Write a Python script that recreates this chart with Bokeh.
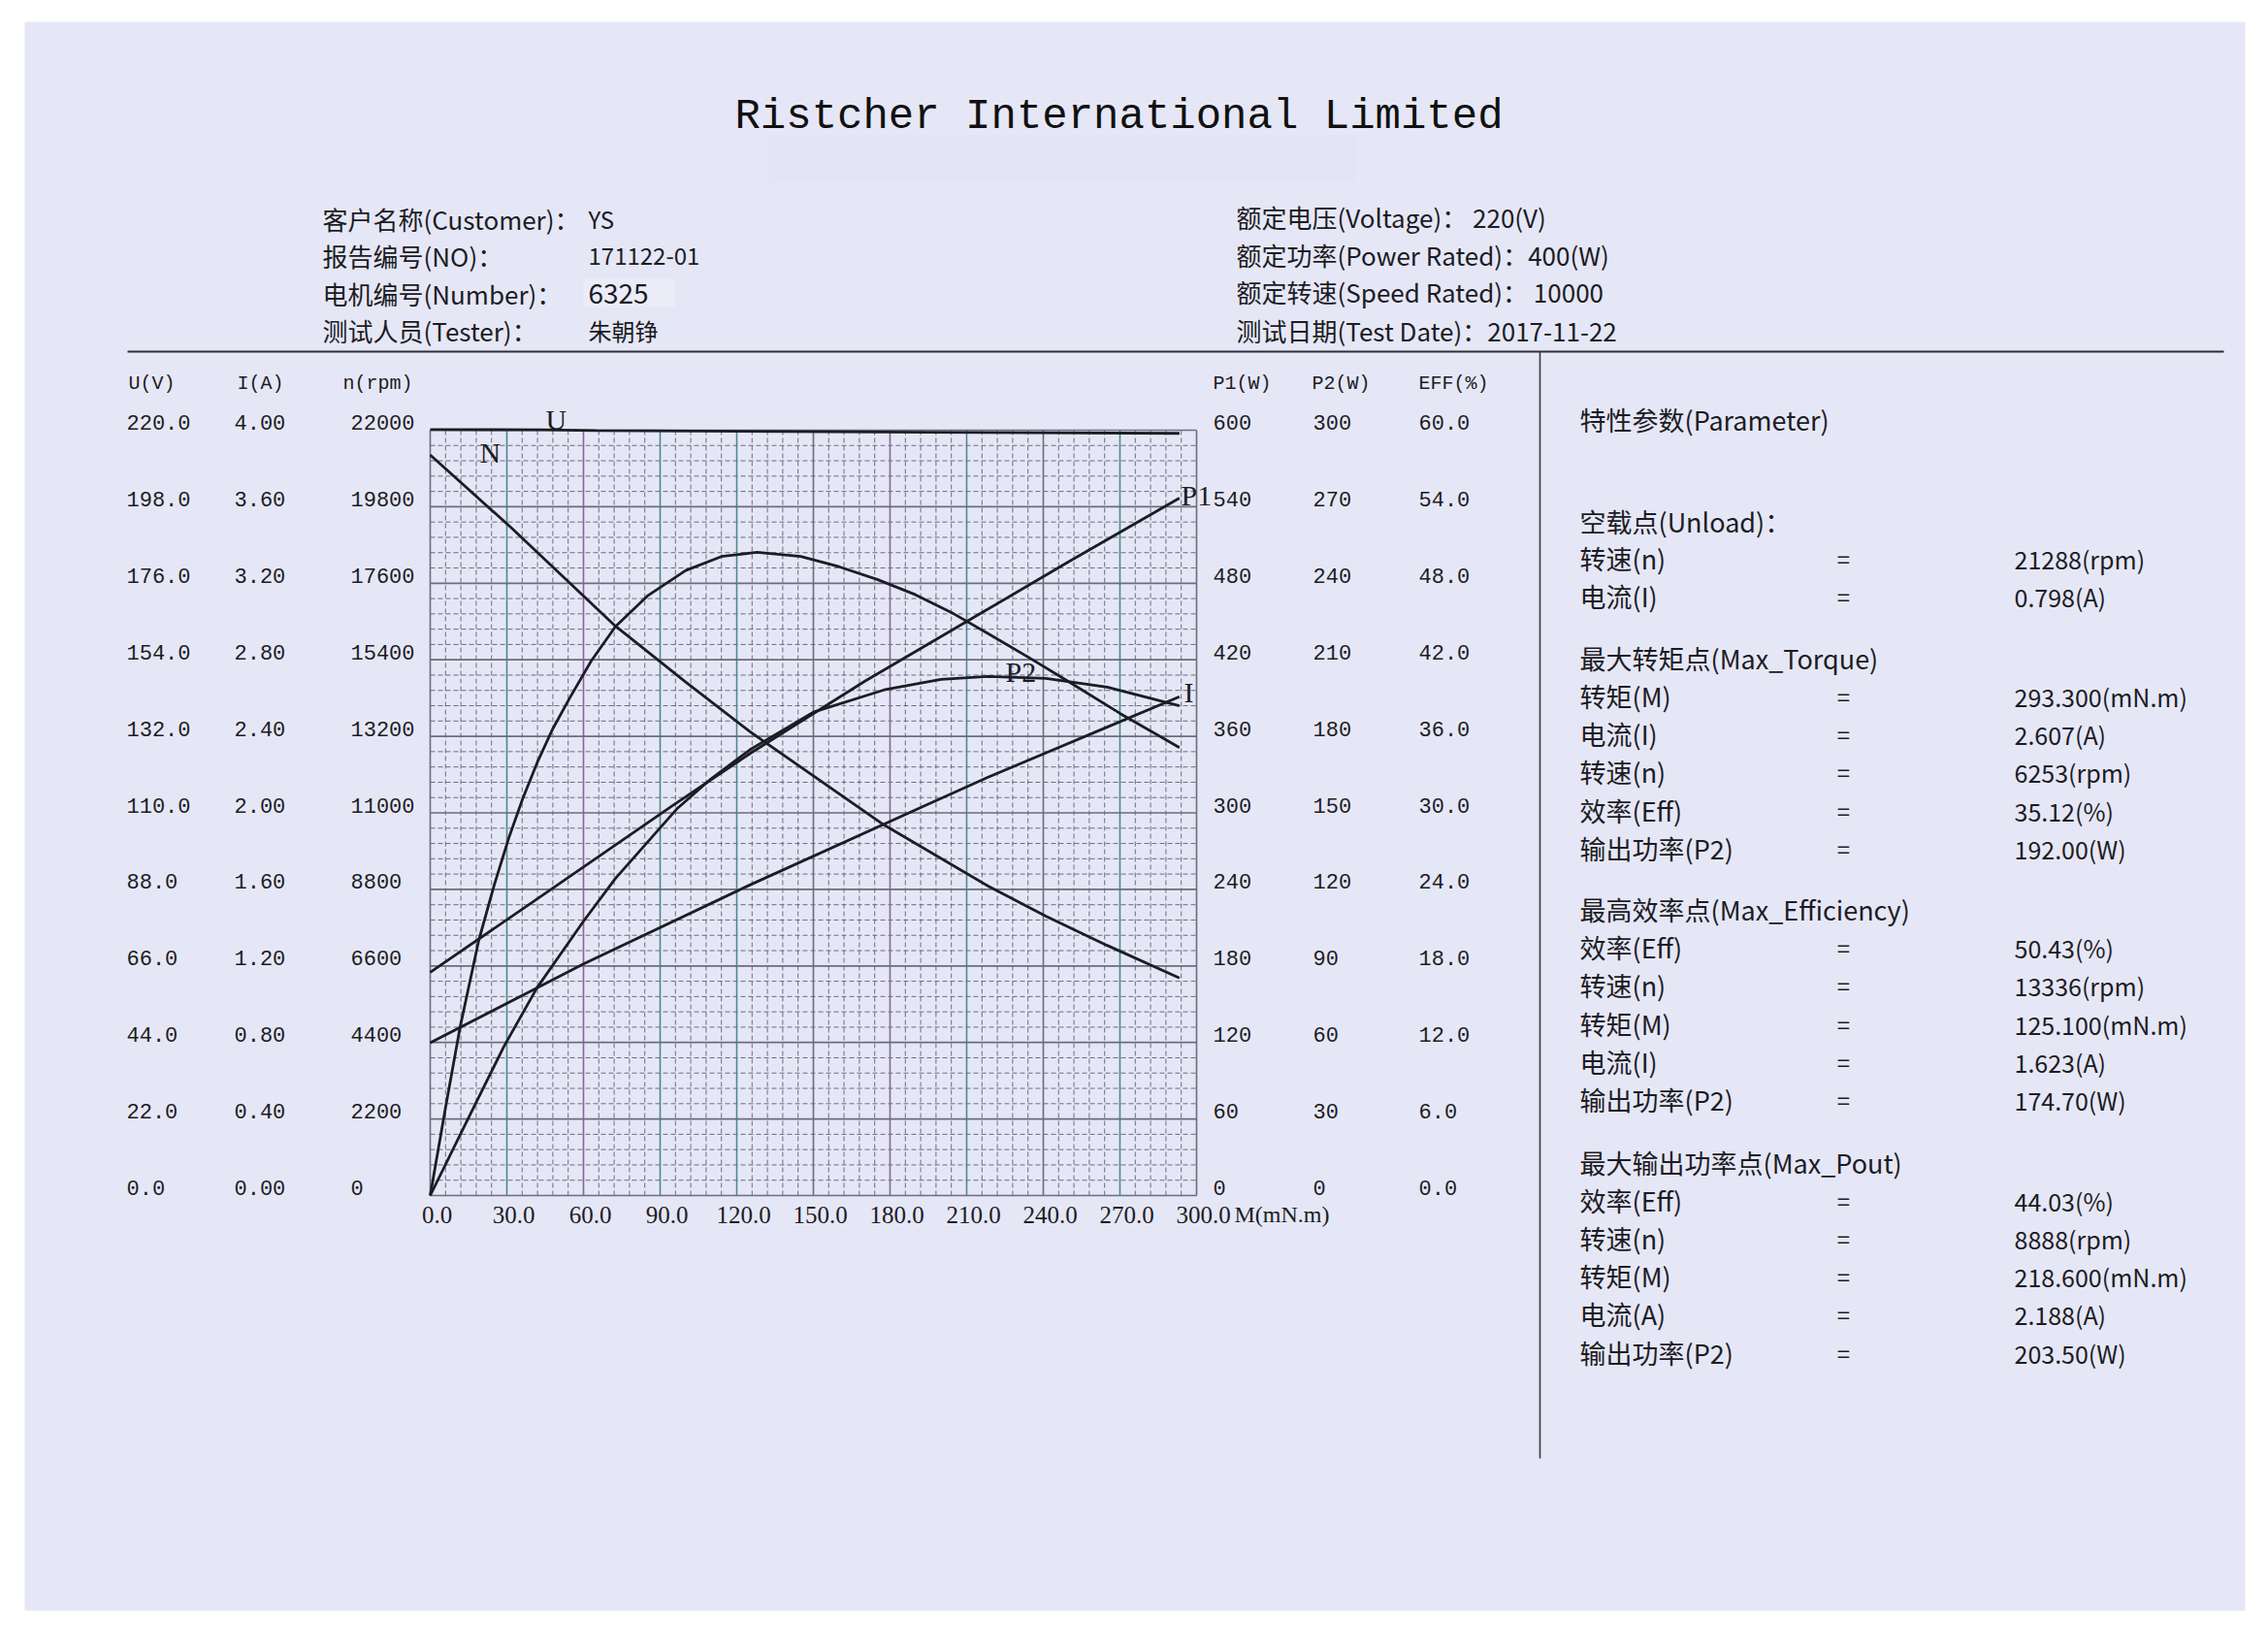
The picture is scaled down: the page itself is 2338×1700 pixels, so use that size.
from bokeh.plotting import figure
from bokeh.models import Range1d
from bokeh.core.properties import value
from bokeh.embed import file_html
from bokeh.resources import INLINE

# ---------------- data ----------------
torque_ticks = [0, 30, 60, 90, 120, 150, 180, 210, 240, 270, 300]
u_ticks = [0.0, 22.0, 44.0, 66.0, 88.0, 110.0, 132.0, 154.0, 176.0, 198.0, 220.0]
i_ticks = [0.00, 0.40, 0.80, 1.20, 1.60, 2.00, 2.40, 2.80, 3.20, 3.60, 4.00]
n_ticks = [0, 2200, 4400, 6600, 8800, 11000, 13200, 15400, 17600, 19800, 22000]
p1_ticks = [0, 60, 120, 180, 240, 300, 360, 420, 480, 540, 600]
p2_ticks = [0, 30, 60, 90, 120, 150, 180, 210, 240, 270, 300]
eff_ticks = [0.0, 6.0, 12.0, 18.0, 24.0, 30.0, 36.0, 42.0, 48.0, 54.0, 60.0]

# curves (torque M in mN.m)
torque_u = [0, 45, 65, 140, 194, 293.3]
voltage_u = [220.2, 220.1, 219.9, 219.6, 219.4, 219.1]

torque_n = [0, 31.5, 72.5, 100, 125.1, 177.7, 218.6, 241, 265, 293.3]
speed_n = [21288, 19210, 16370, 14760, 13336, 10650, 8888, 8030, 7190, 6253]

torque_i = [0, 60, 125.1, 193.7, 218.6, 260, 293.3]
current_i = [0.798, 1.21, 1.623, 2.038, 2.188, 2.42, 2.607]

torque_p1 = [0, 40, 94.4, 125.1, 170, 210, 250, 293.3]
power_p1 = [175.0, 230, 305, 346.4, 403, 450, 497, 546.7]

torque_p2 = [0, 15, 28.9, 41.8, 60, 72.5, 96.5, 110, 125.1, 150, 177.7, 200, 218.6, 241, 265, 293.3]
power_p2 = [0, 30.5, 58.5, 81.4, 107.5, 124.3, 151.5, 163.4, 174.7, 189.5, 198.2, 202.3, 203.5, 202.7, 199.3, 192.0]

torque_eff = [0, 6, 11.8, 19, 25, 30.7, 36, 42, 48, 54.6, 63, 72.5, 85, 100, 114, 128,
              145, 160, 175, 190, 205, 218.6, 235, 249, 270, 293.3]
eff = [0, 6.9, 13.3, 20.0, 24.3, 28.0, 31.0, 34.0, 36.6, 39.0, 41.9, 44.6, 47.0, 49.0, 50.1, 50.43,
       50.1, 49.3, 48.3, 47.1, 45.6, 44.03, 42.1, 40.4, 37.8, 35.12]

header_left = ["客户名称(Customer)：", "报告编号(NO)：", "电机编号(Number)：", "测试人员(Tester)："]
header_left_values = ["YS", "171122-01", "6325", "朱朝铮"]
header_right = ["额定电压(Voltage)： 220(V)", "额定功率(Power Rated)：400(W)",
                "额定转速(Speed Rated)： 10000", "测试日期(Test Date)：2017-11-22"]

param_names = ["空载点(Unload)：", "转速(n)", "电流(I)",
               "最大转矩点(Max_Torque)", "转矩(M)", "电流(I)", "转速(n)", "效率(Eff)", "输出功率(P2)",
               "最高效率点(Max_Efficiency)", "效率(Eff)", "转速(n)", "转矩(M)", "电流(I)", "输出功率(P2)",
               "最大输出功率点(Max_Pout)", "效率(Eff)", "转速(n)", "转矩(M)", "电流(A)", "输出功率(P2)"]
param_values = ["", "21288(rpm)", "0.798(A)",
                "", "293.300(mN.m)", "2.607(A)", "6253(rpm)", "35.12(%)", "192.00(W)",
                "", "50.43(%)", "13336(rpm)", "125.100(mN.m)", "1.623(A)", "174.70(W)",
                "", "44.03(%)", "8888(rpm)", "218.600(mN.m)", "2.188(A)", "203.50(W)"]

# ---------------- layout (page pixels) ----------------
PX0, PX1, PY0, PY1 = 0, 2322, 0, 1684          # canvas extent on the page
GX0, GX1, GY_BOT, GY_TOP = 443, 1233, 1232, 443  # chart frame on the page
param_y = [537, 575, 614, 678, 717, 756, 795, 835, 874, 937, 976, 1015, 1055, 1094, 1133,
           1198, 1237, 1276, 1315, 1354, 1394]

PAPER = "#e6e7f6"
INK = "#1c1c24"
CJK = "Noto Sans CJK SC"
MONO = "Liberation Mono"
SERIF = "Liberation Serif"


def xr_for(vmax):
    k = vmax / (GX1 - GX0)
    return Range1d((PX0 - GX0) * k, (PX1 - GX0) * k)


def yr_for(vmax):
    k = vmax / (GY_BOT - GY_TOP)
    return Range1d((GY_BOT - PY1) * k, (GY_BOT - PY0) * k)


p = figure(width=PX1 - PX0, height=PY1 - PY0, output_backend="svg", toolbar_location=None,
           x_range=Range1d(PX0, PX1), y_range=Range1d(PY1, PY0),
           x_axis_type=None, y_axis_type=None, min_border=0)
p.background_fill_color = "white"
p.border_fill_color = "white"
p.outline_line_color = None
for g in p.grid:
    g.visible = False

p.extra_x_ranges = {"M": xr_for(300)}
p.extra_y_ranges = {"n": yr_for(22000), "U": yr_for(220), "I": yr_for(4),
                    "P1": yr_for(600), "P2": yr_for(300), "EFF": yr_for(60)}


def txt(xs, ys, texts, xr="default", yr="default", font=CJK, size="27px", align="left",
        baseline="middle", color=INK, xo=0, yo=0):
    p.text(x=xs, y=ys, text=texts, x_range_name=xr, y_range_name=yr,
           text_font=value(font), text_font_size=value(size), text_align=align,
           text_baseline=baseline, text_color=color, x_offset=xo, y_offset=yo)


# paper sheet and decorations
p.quad(left=[25], right=[2314], top=[22], bottom=[1660], fill_color=PAPER, line_color=None)
p.quad(left=[792], right=[1397], top=[138], bottom=[187], fill_color="#e3e4f5", line_color=None)
p.quad(left=[601], right=[695], top=[287], bottom=[316], fill_color="#ebecf7", line_color=None)
p.segment(x0=[131], y0=[362], x1=[2292], y1=[362], line_color="#2e2e36", line_width=2.2)
p.segment(x0=[1587], y0=[362], x1=[1587], y1=[1503], line_color="#3a3a44", line_width=1.6)

# ---------------- grid ----------------
minor_m = [6 * k for k in range(1, 50) if k % 5]
minor_n = [440 * k for k in range(1, 50) if k % 5]
p.segment(x0=minor_m, y0=[0] * len(minor_m), x1=minor_m, y1=[22000] * len(minor_m),
          x_range_name="M", y_range_name="n", line_color="#55586a", line_width=1,
          line_alpha=0.85, line_dash="5 3")
p.segment(x0=[0] * len(minor_n), y0=minor_n, x1=[300] * len(minor_n), y1=minor_n,
          x_range_name="M", y_range_name="n", line_color="#55586a", line_width=1,
          line_alpha=0.85, line_dash="5 3")
major_groups = [([30, 90, 120, 210, 270], "#4e8794"),
                ([60, 180], "#86679a"),
                ([0, 150, 240, 300], "#6a6d7b")]
for ticks, col in major_groups:
    p.segment(x0=ticks, y0=[0] * len(ticks), x1=ticks, y1=[22000] * len(ticks),
              x_range_name="M", y_range_name="n", line_color=col, line_width=1.6)
p.segment(x0=[0] * len(n_ticks), y0=n_ticks, x1=[300] * len(n_ticks), y1=n_ticks,
          x_range_name="M", y_range_name="n", line_color="#6a6d7c", line_width=1.7)

# ---------------- curves ----------------
LW = 2.8
p.line(torque_u, voltage_u, x_range_name="M", y_range_name="U", line_color=INK, line_width=LW)
p.line(torque_n, speed_n, x_range_name="M", y_range_name="n", line_color=INK, line_width=LW)
p.line(torque_i, current_i, x_range_name="M", y_range_name="I", line_color=INK, line_width=LW)
p.line(torque_p1, power_p1, x_range_name="M", y_range_name="P1", line_color=INK, line_width=LW)
p.line(torque_p2, power_p2, x_range_name="M", y_range_name="P2", line_color=INK, line_width=LW)
p.line(torque_eff, eff, x_range_name="M", y_range_name="EFF", line_color=INK, line_width=LW)


# ---------------- tick labels ----------------
def col(vals, fmt, x, yr):
    txt([x] * len(vals), vals, [fmt.format(v) for v in vals], yr=yr, font=MONO, size="22px", yo=-8)


col(u_ticks, "{:.1f}", 130, "U")
col(i_ticks, "{:.2f}", 241, "I")
col(n_ticks, "{:d}", 361, "n")
col(p1_ticks, "{:d}", 1250, "P1")
col(p2_ticks, "{:d}", 1353, "P2")
col(eff_ticks, "{:.1f}", 1462, "EFF")
txt(torque_ticks, [1252] * len(torque_ticks), ["{:.1f}".format(v) for v in torque_ticks],
    xr="M", font=SERIF, size="25px", align="center", xo=7)
txt([1272], [1251], ["M(mN.m)"], font=SERIF, size="24px")
txt([132, 244, 353, 1250, 1352, 1462], [395] * 6,
    ["U(V)", "I(A)", "n(rpm)", "P1(W)", "P2(W)", "EFF(%)"], font=MONO, size="20px")

# curve names
txt([562, 494, 1217, 1036, 1220], [432, 466, 510, 692, 713], ["U", "N", "P1", "P2", "I"],
    font=SERIF, size="30px", align="left")

# ---------------- title and header ----------------
txt([1153], [119], ["Ristcher International Limited"], font=MONO, size="44px", align="center", color="#111")
txt([332] * 4, [225, 263, 302, 340], header_left, size="26px")
txt([606, 606, 606], [225, 263, 340], [header_left_values[0], header_left_values[1], header_left_values[3]], size="24px")
txt([606], [302], [header_left_values[2]], size="28px")
txt([1274] * 4, [223, 262, 300, 340], header_right, size="26px")

# ---------------- parameter panel ----------------
txt([1628], [432], ["特性参数(Parameter)"], size="27px")
txt([1628] * len(param_names), param_y, param_names, size="27px")
vy = [y for y, v in zip(param_y, param_values) if v]
vv = [v for v in param_values if v]
txt([1900] * len(vy), vy, ["="] * len(vy), size="24px", align="center")
txt([2076] * len(vy), vy, vv, size="25px")

open("out.html", "w").write(file_html(p, INLINE))
